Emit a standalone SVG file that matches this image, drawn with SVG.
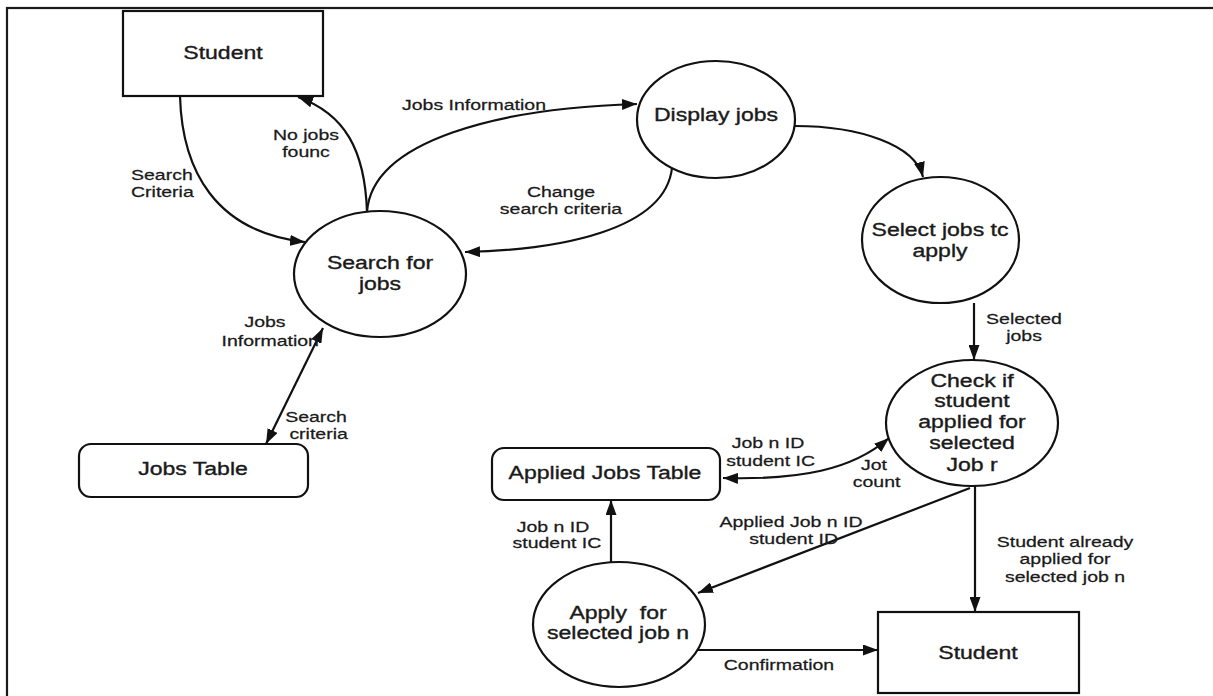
<svg xmlns="http://www.w3.org/2000/svg" width="1213" height="696" viewBox="0 0 1213 696">
  <style>
    .frame { fill: none; stroke: #1a1a1a; stroke-width: 2.2; }
    .shape { fill: #ffffff; stroke: #111111; stroke-width: 2.2; }
    .flow { fill: none; stroke: #111111; stroke-width: 2.2; }
    .node-text { font-family: "Liberation Sans", Arial, sans-serif; font-size: 18px; fill: #1a1a1a; stroke: #1a1a1a; stroke-width: 0.35; text-anchor: middle; }
    .label { font-family: "Liberation Sans", Arial, sans-serif; font-size: 15px; fill: #1a1a1a; stroke: #1a1a1a; stroke-width: 0.25; text-anchor: middle; }
    .label-start { text-anchor: start; }
  </style>
  <defs>
    <marker id="arrow" viewBox="0 0 15 11" refX="15" refY="5.5" markerWidth="15" markerHeight="11" markerUnits="userSpaceOnUse" orient="auto-start-reverse">
      <path d="M0,0 L15,5.5 L0,11 z" fill="#111111"/>
    </marker>
  </defs>

  <rect width="1213" height="696" fill="#ffffff"/>
  <!-- page frame (right and bottom edges run off the sheet) -->
  <rect class="frame" x="7" y="8" width="1230" height="720"/>

  <!-- data flows -->
  <g id="connectors">
    <!-- Student -> Search for jobs -->
    <path class="flow" d="M 180 96 C 182 170, 215 232, 305 242" marker-end="url(#arrow)"/>
    <text class="label label-start" transform="translate(131 180) scale(1.3 1)"><tspan x="0">Search</tspan><tspan x="0" dy="17">Criteria</tspan></text>
    <!-- Search for jobs -> Student -->
    <path class="flow" d="M 367 212 C 365 150, 345 114, 298 97" marker-end="url(#arrow)"/>
    <text class="label" transform="translate(306 140) scale(1.3 1)"><tspan x="0">No jobs</tspan><tspan x="0" dy="17">founc</tspan></text>
    <!-- Search for jobs -> Display jobs -->
    <path class="flow" d="M 367 212 C 372 140, 500 108, 637 104" marker-end="url(#arrow)"/>
    <text class="label label-start" transform="translate(402 110) scale(1.3 1)">Jobs Information</text>
    <!-- Display jobs -> Search for jobs -->
    <path class="flow" d="M 672 168 C 665 230, 560 250, 465 252" marker-end="url(#arrow)"/>
    <text class="label" transform="translate(561 197) scale(1.3 1)"><tspan x="0">Change</tspan><tspan x="0" dy="17">search criteria</tspan></text>
    <!-- Display jobs -> Select jobs to apply -->
    <path class="flow" d="M 795 126 C 860 126, 915 145, 923 177" marker-end="url(#arrow)"/>
    <!-- Jobs Table <-> Search for jobs -->
    <path class="flow" d="M 266 444 L 323 328" marker-start="url(#arrow)" marker-end="url(#arrow)"/>
    <text class="label" transform="translate(265 327) scale(1.3 1)"><tspan x="0">Jobs</tspan><tspan x="4" dy="19">Information</tspan></text>
    <text class="label" transform="translate(316 422) scale(1.3 1)"><tspan x="0">Search</tspan><tspan x="2" dy="17">criteria</tspan></text>
    <!-- Select jobs -> Check -->
    <path class="flow" d="M 974 303 L 974 360" marker-end="url(#arrow)"/>
    <text class="label" transform="translate(1024 324) scale(1.3 1)"><tspan x="0">Selected</tspan><tspan x="0" dy="17">jobs</tspan></text>
    <!-- Check <-> Applied Jobs Table -->
    <path class="flow" d="M 723 478 C 800 480, 852 470, 889 438" marker-start="url(#arrow)" marker-end="url(#arrow)"/>
    <text class="label" transform="translate(768 448) scale(1.3 1)"><tspan x="0">Job n ID</tspan><tspan x="2" dy="18">student IC</tspan></text>
    <text class="label" transform="translate(874 470) scale(1.3 1)"><tspan x="0">Jot</tspan><tspan x="2" dy="17">count</tspan></text>
    <!-- Check -> Apply for selected job -->
    <path class="flow" d="M 970 488 L 698 593" marker-end="url(#arrow)"/>
    <text class="label" transform="translate(791 527) scale(1.3 1)"><tspan x="0">Applied Job n ID</tspan><tspan x="2" dy="17">student ID</tspan></text>
    <!-- Check -> Student -->
    <path class="flow" d="M 975 486 L 975 612" marker-end="url(#arrow)"/>
    <text class="label" transform="translate(1065 547) scale(1.3 1)"><tspan x="0">Student already</tspan><tspan x="0" dy="17.5">applied for</tspan><tspan x="0" dy="17.5">selected job n</tspan></text>
    <!-- Apply -> Applied Jobs Table -->
    <path class="flow" d="M 611 562 L 611 500" marker-end="url(#arrow)"/>
    <text class="label" transform="translate(553 532) scale(1.3 1)"><tspan x="0">Job n ID</tspan><tspan x="3" dy="16.5">student IC</tspan></text>
    <!-- Apply -> Student (confirmation) -->
    <path class="flow" d="M 698 650 L 878 650" marker-end="url(#arrow)"/>
    <text class="label" transform="translate(779 670) scale(1.3 1)">Confirmation</text>
  </g>

  <!-- external entity: student (top) -->
  <g id="student-top">
    <rect class="shape" x="123" y="11" width="200" height="85"/>
    <text class="node-text" transform="translate(223 59) scale(1.28 1)">Student</text>
  </g>

  <!-- process: search for jobs -->
  <g id="search-jobs">
    <ellipse class="shape" cx="380" cy="274" rx="86" ry="63"/>
    <text class="node-text" transform="translate(380 269) scale(1.28 1)"><tspan x="0">Search for</tspan><tspan x="0" dy="21">jobs</tspan></text>
  </g>

  <!-- process: display jobs -->
  <g id="display-jobs">
    <ellipse class="shape" cx="716" cy="119.5" rx="79" ry="58.5"/>
    <text class="node-text" transform="translate(716 121) scale(1.28 1)">Display jobs</text>
  </g>

  <!-- process: select jobs to apply -->
  <g id="select-jobs">
    <ellipse class="shape" cx="940.5" cy="240" rx="78.5" ry="63"/>
    <text class="node-text" transform="translate(940 236) scale(1.28 1)"><tspan x="0">Select jobs tc</tspan><tspan x="0" dy="21">apply</tspan></text>
  </g>

  <!-- process: check whether the student already applied -->
  <g id="check-applied">
    <ellipse class="shape" cx="972" cy="423" rx="86" ry="63"/>
    <text class="node-text" transform="translate(972 387) scale(1.28 1)"><tspan x="0">Check if</tspan><tspan x="0" dy="20.5">student</tspan><tspan x="0" dy="21">applied for</tspan><tspan x="0" dy="21">selected</tspan><tspan x="0" dy="21.5">Job r</tspan></text>
  </g>

  <!-- data store: jobs table -->
  <g id="jobs-table">
    <rect class="shape" x="79" y="444" width="229" height="53" rx="12" ry="12"/>
    <text class="node-text" transform="translate(193 475) scale(1.28 1)">Jobs Table</text>
  </g>

  <!-- data store: applied jobs table -->
  <g id="applied-jobs-table">
    <rect class="shape" x="492" y="448" width="228" height="52" rx="12" ry="12"/>
    <text class="node-text" transform="translate(605 479) scale(1.28 1)">Applied Jobs Table</text>
  </g>

  <!-- process: apply for selected job -->
  <g id="apply-job">
    <ellipse class="shape" cx="619" cy="624.5" rx="86" ry="62.5"/>
    <text class="node-text" transform="translate(618 619) scale(1.28 1)"><tspan x="0" style="white-space:pre">Apply  for</tspan><tspan x="0" dy="20">selected job n</tspan></text>
  </g>

  <!-- external entity: student (bottom) -->
  <g id="student-bottom">
    <rect class="shape" x="878" y="612" width="201" height="81"/>
    <text class="node-text" transform="translate(978 659) scale(1.28 1)">Student</text>
  </g>
</svg>
